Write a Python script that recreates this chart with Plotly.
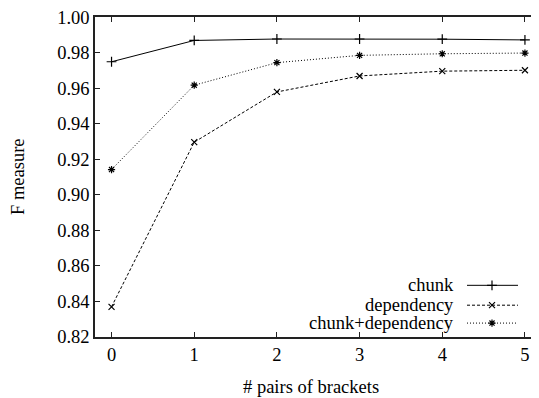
import plotly.graph_objects as go

pairs = [0, 1, 2, 3, 4, 5]
chunk = [0.975, 0.987, 0.9878, 0.9878, 0.9877, 0.9873]
dependency = [0.837, 0.9297, 0.958, 0.967, 0.9697, 0.9702]
chunk_dep = [0.9143, 0.9618, 0.9745, 0.9786, 0.9795, 0.9799]
series_names = ["chunk", "dependency", "chunk+dependency"]
y_ticks = [0.82, 0.84, 0.86, 0.88, 0.90, 0.92, 0.94, 0.96, 0.98, 1.00]

FONT = "'Liberation Serif', 'Times New Roman', Times, serif"
FS = 18.5
OFF = 8  # page body margin
W, H = 539 - OFF, 398 - OFF
# target plot area in window pixels: x 95..539, y 15..337
L, T, R = 95 - OFF, 15 - OFF, 0
B = (H + OFF) - 337


def px(xw):
    return (xw - 95) / (539 - 95)


def py(yw):
    return (337 - yw) / (337 - 15)


styles = [
    dict(dash="solid", symbol="cross-thin-open", size=7),
    dict(dash="3px,2px", symbol="x-thin-open", size=6),
    dict(dash="1px,2px", symbol="asterisk-open", size=6),
]
data = [chunk, dependency, chunk_dep]

fig = go.Figure()
for name, ys, st in zip(series_names, data, styles):
    fig.add_trace(go.Scatter(
        x=pairs, y=ys, name=name, mode="lines+markers",
        line=dict(color="black", width=1, dash=st["dash"]),
        marker=dict(symbol=st["symbol"], size=st["size"], color="black",
                    line=dict(color="black", width=1.2)),
        showlegend=False,
    ))

# gnuplot-style legend (text left, sample right), in window-pixel overlay axes
rows_y = [285, 305, 323]
for name, st, ry in zip(series_names, styles, rows_y):
    fig.add_shape(type="line", xref="x2", yref="y2", x0=467, x1=518, y0=ry, y1=ry,
                  line=dict(color="black", width=1, dash=st["dash"]))
    fig.add_trace(go.Scatter(
        x=[492], y=[ry], xaxis="x2", yaxis="y2", mode="markers", showlegend=False,
        marker=dict(symbol=st["symbol"], size=st["size"], color="black",
                    line=dict(color="black", width=1.2)),
        hoverinfo="skip",
    ))
    fig.add_annotation(xref="x2", yref="y2", x=456, y=ry, text=name, showarrow=False,
                       xanchor="right", yanchor="middle",
                       font=dict(family=FONT, size=FS, color="black"))

axis_common = dict(showgrid=False, zeroline=False, showline=True, linecolor="#222",
                   linewidth=1.5, ticks="inside", ticklen=5, tickcolor="#222",
                   tickwidth=1, ticklabeloverflow="allow",
                   tickfont=dict(family=FONT, size=FS, color="black"))

fig.update_layout(
    width=W, height=H,
    margin=dict(l=L, r=R, t=T, b=B),
    plot_bgcolor="white", paper_bgcolor="white",
    font=dict(family=FONT, size=FS, color="black"),
    xaxis=dict(range=[-0.2, 5.17], tickvals=pairs, mirror="ticks", **axis_common),
    yaxis=dict(range=[0.82, 1.0002], tickvals=y_ticks, tickformat=".2f", mirror=False,
               **axis_common),
    xaxis2=dict(range=[95, 539], overlaying="x", visible=False, fixedrange=True),
    yaxis2=dict(range=[337, 15], overlaying="y", visible=False, fixedrange=True),
)

fig.add_annotation(xref="paper", yref="paper", x=px(311), y=py(387),
                   text="# pairs of brackets", showarrow=False, xanchor="center", yanchor="middle",
                   font=dict(family=FONT, size=FS, color="black"))
fig.add_annotation(xref="paper", yref="paper", x=px(18), y=0.5,
                   text="F measure", showarrow=False, textangle=-90, xanchor="center",
                   yanchor="middle", font=dict(family=FONT, size=FS, color="black"))

fig.write_html("out.html")
